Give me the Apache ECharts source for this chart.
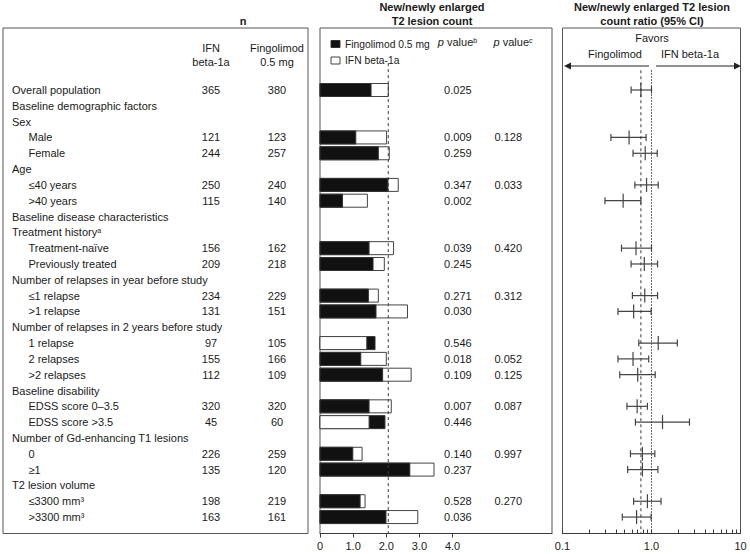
<!DOCTYPE html>
<html><head><meta charset="utf-8">
<script src="https://cdn.jsdelivr.net/npm/echarts@6/dist/echarts.min.js"></script>
<style>html,body{margin:0;padding:0;background:#fff}#c{width:750px;height:554px}</style>
</head><body><div id="c"></div>
<script>
// ---------------- data ----------------
const rowLabels = ['Overall population','Baseline demographic factors','Sex','Male','Female','Age','≤40 years','>40 years',
  'Baseline disease characteristics','Treatment history','Treatment-naïve','Previously treated',
  'Number of relapses in year before study','≤1 relapse','>1 relapse',
  'Number of relapses in 2 years before study','1 relapse','2 relapses','>2 relapses',
  'Baseline disability','EDSS score 0–3.5','EDSS score >3.5',
  'Number of Gd-enhancing T1 lesions','0','≥1','T2 lesion volume','≤3300 mm³','>3300 mm³'];
const rowIndent = [0,0,0,1,1,0,1,1,0,0,1,1,0,1,1,0,1,1,1,0,1,1,0,1,1,0,1,1];
const rowSup    = ['','','','','','','','','','a','','','','','','','','','','','','','','','','','',''];
const nIFN    = [365,null,null,121,244,null,250,115,null,null,156,209,null,234,131,null,97,155,112,null,320,45,null,226,135,null,198,163];
const nFingo  = [380,null,null,123,257,null,240,140,null,null,162,218,null,229,151,null,105,166,109,null,320,60,null,259,120,null,219,161];

// rows (indices into rowLabels) that carry results
const resultRows = [0,3,4,6,7,10,11,13,14,16,17,18,20,21,23,24,26,27];
const fingolimodCount = [1.54,1.08,1.76,2.05,0.68,1.48,1.60,1.46,1.69,1.66,1.23,1.89,1.48,1.96,0.99,2.71,1.21,1.99];
const ifnCount        = [2.06,2.01,2.09,2.36,1.43,2.22,1.94,1.76,2.64,1.41,2.00,2.75,2.15,1.48,1.27,3.44,1.36,2.95];
const pValueB = ['0.025','0.009','0.259','0.347','0.002','0.039','0.245','0.271','0.030','0.546','0.018','0.109','0.007','0.446','0.140','0.237','0.528','0.036'];
const pValueC = ['','0.128','','0.033','','0.420','','0.312','','','0.052','0.125','0.087','','0.997','','0.270',''];
const ratioMid  = [0.76,0.56,0.85,0.88,0.48,0.67,0.83,0.84,0.63,1.19,0.62,0.70,0.69,1.33,0.79,0.79,0.90,0.68];
const ratioLow  = [0.59,0.35,0.62,0.65,0.30,0.46,0.59,0.61,0.42,0.72,0.42,0.44,0.53,0.66,0.58,0.54,0.63,0.47];
const ratioHigh = [1.00,0.87,1.16,1.19,0.76,1.00,1.17,1.17,0.99,1.95,0.93,1.10,0.90,2.67,1.09,1.18,1.28,0.99];

const countTicks = [0,1,2,3,4];
const countTickLabels = ['0','1.0','2.0','3.0','4.0'];
const ratioTicks = [0.1,0.2,0.3,0.4,0.5,0.6,0.7,0.8,0.9,1,2,3,4,5,6,7,8,9,10];
const ratioLabelValues = [0.1,1,10];
const ratioLabelTexts = ['0.1','1.0','10'];

// ---------------- chart ----------------
const FONT = '"Liberation Sans", Arial, Helvetica, sans-serif';
const INK = '#1a1a1a';
const LINE = '#3a3a3a';
const Y_MIN = -3.92, Y_MAX = 28.04;
const chart = echarts.init(document.getElementById('c'), null, {renderer: 'svg'});

function textEl(x, y, text, align, extra) {
  return {type: 'text', x: x, y: y, silent: true,
    style: Object.assign({text: text, fill: INK, fontSize: 11, fontFamily: FONT, align: align, verticalAlign: 'middle',
      rich: {sup: {fontSize: 7, fontFamily: FONT, fill: INK, verticalAlign: 'top', lineHeight: 8},
             i: {fontSize: 11, fontFamily: FONT, fill: INK, fontStyle: 'italic'}}}, extra || {})};
}

const yAxes = [0,1,2].map(g => ({gridIndex: g, type: 'value', inverse: true, min: Y_MIN, max: Y_MAX, show: false}));

const tableData = rowLabels.map((_, i) => [0, i]);
const barData = resultRows.map((r, k) => [fingolimodCount[k], ifnCount[k], r]);
const pData = resultRows.map((r, k) => [0, r]);
const forestData = resultRows.map((r, k) => [ratioLow[k], ratioMid[k], ratioHigh[k], r]);

const option = {
  animation: false,
  backgroundColor: '#fff',
  textStyle: {fontFamily: FONT},
  grid: [
    {left: 3, top: 28, width: 305, height: 505.5, show: true, borderColor: '#555', borderWidth: 1},
    {left: 320, top: 28, width: 232, height: 505.5, show: true, borderColor: '#555', borderWidth: 1},
    {left: 562.5, top: 28, width: 178, height: 505.5, show: true, borderColor: '#555', borderWidth: 1}
  ],
  xAxis: [
    {gridIndex: 0, type: 'value', min: 0, max: 305, show: false},
    {gridIndex: 1, type: 'value', min: 0, max: 7, interval: 1, position: 'bottom',
      axisLine: {show: true, onZero: false, lineStyle: {color: LINE, width: 1}},
      axisTick: {show: true, length: 4, customValues: countTicks, lineStyle: {color: LINE}},
      axisLabel: {show: true, customValues: countTicks, color: INK, fontSize: 11, fontFamily: FONT, margin: 7,
        formatter: v => countTickLabels[countTicks.indexOf(Math.round(v))] || ''},
      splitLine: {show: false}},
    {gridIndex: 2, type: 'log', logBase: 10, min: 0.1, max: 10, position: 'bottom',
      axisLine: {show: true, onZero: false, lineStyle: {color: LINE, width: 1}},
      axisTick: {show: true, inside: true, length: 4, customValues: ratioTicks, lineStyle: {color: LINE}},
      axisLabel: {show: true, customValues: ratioLabelValues, color: INK, fontSize: 11, fontFamily: FONT, margin: 7,
        formatter: v => { let b = 0; ratioLabelValues.forEach((t, j) => { if (Math.abs(Math.log10(v) - Math.log10(t)) < Math.abs(Math.log10(v) - Math.log10(ratioLabelValues[b]))) b = j; }); return ratioLabelTexts[b]; }},
      minorTick: {show: false}, splitLine: {show: false}}
  ],
  yAxis: yAxes,
  series: [
    { // table text
      type: 'custom', xAxisIndex: 0, yAxisIndex: 0, data: tableData, silent: true,
      renderItem: function (params, api) {
        const i = params.dataIndex;
        const row = api.value(1);
        const lx = api.coord([rowIndent[i] ? 25.5 : 9, row]);
        const children = [textEl(lx[0], lx[1], rowLabels[i] + (rowSup[i] ? '{sup|' + rowSup[i] + '}' : ''), 'left')];
        if (nIFN[i] != null) {
          const a = api.coord([208, row]);
          children.push(textEl(a[0], a[1], String(nIFN[i]), 'center'));
        }
        if (nFingo[i] != null) {
          const b = api.coord([274, row]);
          children.push(textEl(b[0], b[1], String(nFingo[i]), 'center'));
        }
        return {type: 'group', children: children};
      }
    },
    { // bars
      type: 'custom', xAxisIndex: 1, yAxisIndex: 1, data: barData, silent: true,
      encode: {x: [0, 1], y: 2},
      renderItem: function (params, api) {
        const f = api.value(0), n = api.value(1), row = api.value(2);
        const p0 = api.coord([0, row]);
        const pf = api.coord([f, row]);
        const pn = api.coord([n, row]);
        const h = 13;
        const fRect = {type: 'rect', shape: {x: p0[0], y: p0[1] - h / 2, width: pf[0] - p0[0], height: h},
          style: {fill: '#111', stroke: '#333', lineWidth: 1}};
        const nRect = {type: 'rect', shape: {x: p0[0], y: p0[1] - h / 2, width: pn[0] - p0[0], height: h},
          style: {fill: '#fff', stroke: '#444', lineWidth: 1}};
        return {type: 'group', children: f >= n ? [fRect, nRect] : [nRect, fRect]};
      }
    },
    { // p values
      type: 'custom', xAxisIndex: 1, yAxisIndex: 1, data: pData, silent: true,
      renderItem: function (params, api) {
        const k = params.dataIndex, row = api.value(1);
        const ch = [];
        const a = api.coord([4.16, row]);
        ch.push(textEl(a[0], a[1], pValueB[k], 'center'));
        if (pValueC[k]) {
          const b = api.coord([5.68, row]);
          ch.push(textEl(b[0], b[1], pValueC[k], 'center'));
        }
        return {type: 'group', children: ch};
      }
    },
    { // reference line: overall IFN count
      type: 'line', xAxisIndex: 1, yAxisIndex: 1, symbol: 'none', silent: true,
      data: [[ifnCount[0], -1.7], [ifnCount[0], Y_MAX]],
      lineStyle: {color: LINE, width: 1, type: [3, 3]}
    },
    { // forest
      type: 'custom', xAxisIndex: 2, yAxisIndex: 2, data: forestData, silent: true,
      encode: {x: [0, 1, 2], y: 3},
      renderItem: function (params, api) {
        const row = api.value(3);
        const lo = api.coord([api.value(0), row]);
        const mid = api.coord([api.value(1), row]);
        const hi = api.coord([api.value(2), row]);
        const st = {stroke: '#444', lineWidth: 1.2};
        return {type: 'group', children: [
          {type: 'line', shape: {x1: lo[0], y1: lo[1], x2: hi[0], y2: hi[1]}, style: st},
          {type: 'line', shape: {x1: lo[0], y1: lo[1] - 3.5, x2: lo[0], y2: lo[1] + 3.5}, style: st},
          {type: 'line', shape: {x1: hi[0], y1: hi[1] - 3.5, x2: hi[0], y2: hi[1] + 3.5}, style: st},
          {type: 'line', shape: {x1: mid[0], y1: mid[1] - 7, x2: mid[0], y2: mid[1] + 7}, style: st}
        ]};
      }
    },
    { // dashed line at overall ratio
      type: 'line', xAxisIndex: 2, yAxisIndex: 2, symbol: 'none', silent: true,
      data: [[ratioMid[0], -1.25], [ratioMid[0], Y_MAX]],
      lineStyle: {color: LINE, width: 1, type: [3, 3]}
    },
    { // dotted line at 1
      type: 'line', xAxisIndex: 2, yAxisIndex: 2, symbol: 'none', silent: true,
      data: [[1, -1.25], [1, Y_MAX]],
      lineStyle: {color: LINE, width: 1, type: [1.5, 1.5]}
    }
  ],
  graphic: [
    textEl(243, 21, 'n', 'center', {fontWeight: 'bold'}),
    textEl(211, 48, 'IFN', 'center'),
    textEl(211, 62, 'beta-1a', 'center'),
    textEl(277, 48, 'Fingolimod', 'center'),
    textEl(277, 62, '0.5 mg', 'center'),
    textEl(432, 7, 'New/newly enlarged', 'center', {fontWeight: 'bold'}),
    textEl(432, 21, 'T2 lesion count', 'center', {fontWeight: 'bold'}),
    textEl(457.5, 42, '{i|p} value{sup|b}', 'center'),
    textEl(513, 42, '{i|p} value{sup|c}', 'center'),
    {type: 'rect', shape: {x: 331, y: 40.5, width: 9, height: 7}, style: {fill: '#111', stroke: '#333', lineWidth: 1}},
    textEl(345, 44, 'Fingolimod 0.5 mg', 'left', {fontSize: 10.3}),
    {type: 'rect', shape: {x: 331, y: 57, width: 9, height: 7}, style: {fill: '#fff', stroke: '#444', lineWidth: 1}},
    textEl(345, 60.5, 'IFN beta-1a', 'left', {fontSize: 10.3}),
    textEl(652, 7, 'New/newly enlarged T2 lesion', 'center', {fontWeight: 'bold'}),
    textEl(652, 21, 'count ratio (95% CI)', 'center', {fontWeight: 'bold'}),
    textEl(652, 38, 'Favors', 'center'),
    textEl(615, 54, 'Fingolimod', 'center'),
    textEl(690, 54, 'IFN beta-1a', 'center'),
    {type: 'line', shape: {x1: 649, y1: 66, x2: 570, y2: 66}, style: {stroke: '#222', lineWidth: 1.2}},
    {type: 'polygon', shape: {points: [[564, 66], [571, 62.5], [571, 69.5]]}, style: {fill: '#222'}},
    {type: 'line', shape: {x1: 656, y1: 66, x2: 735, y2: 66}, style: {stroke: '#222', lineWidth: 1.2}},
    {type: 'polygon', shape: {points: [[741, 66], [734, 62.5], [734, 69.5]]}, style: {fill: '#222'}}
  ]
};
chart.setOption(option);
</script>
</body></html>
